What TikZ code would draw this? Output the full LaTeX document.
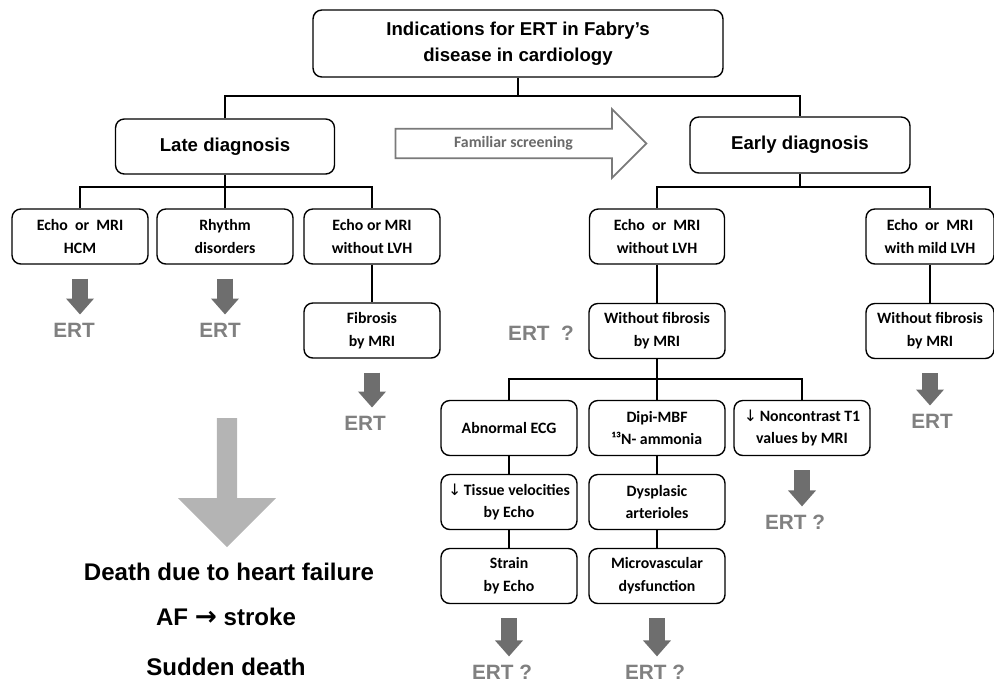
\documentclass[tikz,border=0pt]{standalone}
\usepackage{fontspec}
\setmainfont{Carlito}
\newfontfamily\arialfont{Liberation Sans}
\newfontfamily\symfont{DejaVu Sans}
\usetikzlibrary{positioning,arrows.meta,shapes.arrows}

\definecolor{ertgray}{HTML}{808080}
\definecolor{arrgray}{HTML}{6E6E6E}
\definecolor{biggray}{HTML}{B4B4B4}
\definecolor{scrgray}{HTML}{7A7A7A}
\definecolor{scrtext}{HTML}{6A6A6A}

\begin{document}
\begin{tikzpicture}[
  x=0.02cm, y=-0.02cm,
  font=\fontsize{9}{13}\selectfont\bfseries,
  box/.style={draw, rounded corners=5pt, line width=0.8pt, fill=white,
              minimum width=2.72cm, minimum height=1.1cm, align=center, inner sep=2pt},
  headbox/.style={box, font=\arialfont\fontsize{10.6}{14.5}\selectfont\bfseries},
  ert/.style={font=\arialfont\fontsize{11.8}{14}\selectfont\bfseries, text=ertgray, inner sep=0pt},
  outcome/.style={font=\arialfont\fontsize{13.7}{16}\selectfont\bfseries, inner sep=0pt},
  tree/.style={line width=1.3pt},
  ertarr/.style={draw=arrgray, line width=0.32cm,
                 -{Triangle[width=0.54cm, length=0.32cm]},
                 shorten <=0.28cm, shorten >=0.16cm},
  screen/.style={single arrow, draw=scrgray, line width=1pt, fill=white,
                 minimum height=5.02cm, minimum width=1.38cm,
                 single arrow head extend=0.36cm, text=scrtext},
  bigarrow/.style={single arrow, fill=biggray, draw=none,
                   minimum height=2.58cm, minimum width=1.96cm,
                   single arrow head extend=0.48cm},
]
\useasboundingbox (0,0) rectangle (994,681);

% top of the tree
\node[headbox, minimum width=8.2cm, minimum height=1.34cm] (title) at (518,43.5)
  {Indications for ERT in Fabry’s\\disease in cardiology};
\node[headbox, minimum width=4.38cm] (late)  at (225,146.5) {Late diagnosis};
\node[headbox, minimum width=4.4cm, minimum height=1.12cm] (early) at (800,145) {Early diagnosis};
\node[screen] (screen) at (513.5,143.5) {Familiar screening};

% late diagnosis
\node[box] (lhcm)   at (80,236.5)  {Echo\ \ or\ \ MRI\\HCM};
\node[box] (lrhy)   at (225,236.5) {Rhythm\\disorders};
\node[box] (lnolvh) at (372,236.5) {Echo or MRI\\without LVH};
\node[box] (lfib)   at (372,330.5) {Fibrosis\\by MRI};

% early diagnosis
\node[box, minimum width=2.7cm]  (enolvh) at (657,236.5) {Echo\ \ or\ \ MRI\\without LVH};
\node[box, minimum width=2.56cm] (emild)  at (930,236.5) {Echo\ \ or\ \ MRI\\with mild LVH};
\node[box] (enofib) at (657,331) {Without fibrosis\\by MRI};
\node[box, minimum width=2.56cm] (rnofib) at (930,331) {Without fibrosis\\by MRI};

\node[box] (ecg)    at (509,428) {Abnormal\ ECG};
\node[box] (dipi)   at (657,428) {Dipi-MBF\\¹³N- ammonia};
\node[box] (tone)   at (802,428) {{\symfont\mdseries ↓}\,Noncontrast T1\\values by MRI};
\node[box] (tissue) at (509,502) {{\symfont\mdseries ↓}\,Tissue velocities\\by Echo};
\node[box] (dysp)   at (657,502) {Dysplasic\\arterioles};
\node[box] (strain) at (509,576) {Strain\\by Echo};
\node[box] (micro)  at (657,576) {Microvascular\\dysfunction};

% ERT labels
\node[ert] (ert1)  at (74,330)  {ERT};
\node[ert] (ert2)  at (220,330) {ERT};
\node[ert] (ert3)  at (365,423) {ERT};
\node[ert] (ert4)  at (932,421) {ERT};
\node[ert] (ertq0) at (541,333) {ERT\ \ ?};
\node[ert] (ertq1) at (795,522) {ERT ?};
\node[ert] (ertq2) at (502,672) {ERT ?};
\node[ert] (ertq3) at (655,672) {ERT ?};

% outcome of late diagnosis
\node[bigarrow, rotate=-90] (doom) at (227,477.5) {};
\node[outcome] (death)  at (229,572) {Death due to heart failure};
\node[outcome] (af)     at (226,617) {AF {\symfont\fontsize{15}{16}\selectfont →} stroke};
\node[outcome] (sudden) at (226,667) {Sudden death};

% tree lines
\coordinate (b0) at (518,96);
\coordinate (b1) at (225,187);
\coordinate (b2) at (800,187);
\coordinate (b3) at (657,379);
\draw[tree] (title.south) -- (b0);
\draw[tree] (late.north) |- (b0) -| (early.north);
\draw[tree] (late.south) -- (b1);
\draw[tree] (lhcm.north) |- (b1) -| (lnolvh.north);
\draw[tree] (lrhy.north) -- (b1);
\draw[tree] (early.south) -- (b2);
\draw[tree] (enolvh.north) |- (b2) -| (emild.north);
\draw[tree] (lnolvh) -- (lfib);
\draw[tree] (enolvh) -- (enofib);
\draw[tree] (emild) -- (rnofib);
\draw[tree] (enofib.south) -- (b3);
\draw[tree] (ecg.north) |- (b3) -| (tone.north);
\draw[tree] (dipi.north) -- (b3);
\draw[tree] (ecg) -- (tissue);
\draw[tree] (tissue) -- (strain);
\draw[tree] (dipi) -- (dysp);
\draw[tree] (dysp) -- (micro);

% arrows to ERT
\draw[ertarr] (lhcm.south)   -- (lhcm.south |- ert1.north);
\draw[ertarr] (lrhy.south)   -- (lrhy.south |- ert2.north);
\draw[ertarr] (lfib.south)   -- (lfib.south |- ert3.north);
\draw[ertarr] (rnofib.south) -- (rnofib.south |- ert4.north);
\draw[ertarr] (tone.south)   -- (tone.south |- ertq1.north);
\draw[ertarr] (strain.south) -- (strain.south |- ertq2.north);
\draw[ertarr] (micro.south)  -- (micro.south |- ertq3.north);
\end{tikzpicture}
\end{document}
